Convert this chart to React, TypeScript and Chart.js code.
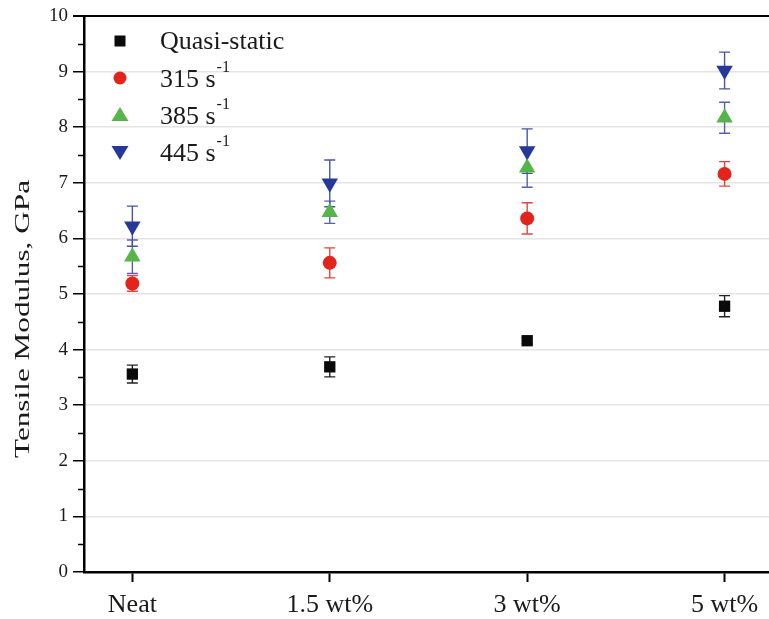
import React, { useEffect, useRef } from "react";
import { Chart, registerables } from "chart.js";

Chart.register(...registerables);

const categories = ["Neat", "1.5 wt%", "3 wt%", "5 wt%"];
const seriesNames = ["Quasi-static", "315", "385", "445"];
const quasiStatic = [3.56, 3.69, 4.16, 4.78];
const quasiStaticErr = [0.16, 0.18, 0.05, 0.19];
const rate315 = [5.19, 5.56, 6.36, 7.16];
const rate315Err = [0.14, 0.27, 0.28, 0.22];
const rate385 = [5.67, 6.47, 7.27, 8.17];
const rate385Err = [0.3, 0.2, 0.35, 0.28];
const rate445 = [6.22, 6.99, 7.57, 9.02];
const rate445Err = [0.36, 0.42, 0.4, 0.33];
const yTicks = [0, 1, 2, 3, 4, 5, 6, 7, 8, 9, 10];
const yTitle = "Tensile Modulus, GPa";

const FONT = "'Liberation Serif', 'Times New Roman', serif";

const seriesStyles = [
  { color: "#0a0a0a", err: "#222222", style: "rect", radius: 8, rotation: 0 },
  { color: "#e3241d", err: "#e3453e", style: "circle", radius: 7, rotation: 0 },
  { color: "#55b44a", err: "#5561b0", style: "triangle", radius: 9.5, rotation: 0 },
  { color: "#26399b", err: "#4654a8", style: "triangle", radius: 9.5, rotation: 180 },
];

const values = [quasiStatic, rate315, rate385, rate445];
const errors = [quasiStaticErr, rate315Err, rate385Err, rate445Err];

const framePlugin = {
  id: "frame",
  beforeDatasetsDraw(chart: any) {
    const { ctx, scales } = chart;
    const x = scales.x;
    const y = scales.y;
    ctx.save();
    values.forEach((vals, si) => {
      ctx.strokeStyle = seriesStyles[si].err;
      ctx.lineWidth = 1.4;
      vals.forEach((v, i) => {
        const e = errors[si][i];
        const px = x.getPixelForValue(i);
        const top = y.getPixelForValue(v + e);
        const bot = y.getPixelForValue(v - e);
        ctx.beginPath();
        ctx.moveTo(px, top);
        ctx.lineTo(px, bot);
        ctx.moveTo(px - 5.5, top);
        ctx.lineTo(px + 5.5, top);
        ctx.moveTo(px - 5.5, bot);
        ctx.lineTo(px + 5.5, bot);
        ctx.stroke();
      });
    });
    ctx.restore();
  },
  afterDraw(chart: any) {
    const { ctx, chartArea, scales } = chart;
    const y = scales.y;
    ctx.save();
    ctx.strokeStyle = "#000";
    ctx.lineWidth = 2;
    ctx.beginPath();
    ctx.moveTo(chartArea.left - 11, chartArea.top);
    ctx.lineTo(chartArea.right, chartArea.top);
    ctx.stroke();
    ctx.lineWidth = 1.5;
    for (let v = 0.5; v < 10; v += 1) {
      const py = Math.round(y.getPixelForValue(v)) + 0.5;
      ctx.beginPath();
      ctx.moveTo(chartArea.left - 6, py);
      ctx.lineTo(chartArea.left, py);
      ctx.stroke();
    }
    // y title (slightly stretched along its length like the reference)
    ctx.save();
    ctx.translate(22, 319);
    ctx.rotate(-Math.PI / 2);
    ctx.font = `22px ${FONT}`;
    ctx.fillStyle = "#1a1a1a";
    ctx.textAlign = "center";
    ctx.textBaseline = "middle";
    const tw = ctx.measureText(yTitle).width;
    const sx = 278 / tw;
    ctx.scale(sx, 1);
    ctx.fillText(yTitle, 0, 1);
    ctx.restore();
    // legend
    const lx = 120;
    const tx = 160;
    const rows = [41, 78, 115, 152];
    rows.forEach((ry, i) => {
      const s = seriesStyles[i];
      ctx.fillStyle = s.color;
      ctx.beginPath();
      if (i === 0) {
        ctx.rect(lx - 5.5, ry - 5.5, 11, 11);
      } else if (i === 1) {
        ctx.arc(lx, ry, 6.5, 0, Math.PI * 2);
      } else if (i === 2) {
        ctx.moveTo(lx, ry - 8);
        ctx.lineTo(lx + 8.5, ry + 6);
        ctx.lineTo(lx - 8.5, ry + 6);
        ctx.closePath();
      } else {
        ctx.moveTo(lx, ry + 8);
        ctx.lineTo(lx + 8.5, ry - 6);
        ctx.lineTo(lx - 8.5, ry - 6);
        ctx.closePath();
      }
      ctx.fill();
      ctx.fillStyle = "#1a1a1a";
      ctx.textBaseline = "middle";
      ctx.textAlign = "left";
      ctx.font = `26px ${FONT}`;
      if (i === 0) {
        ctx.fillText(seriesNames[0], tx, ry + 1);
      } else {
        const main = `${seriesNames[i]} s`;
        ctx.fillText(main, tx, ry + 2);
        const w = ctx.measureText(main).width;
        ctx.font = `16px ${FONT}`;
        ctx.fillText("-1", tx + w + 1, ry - 10);
      }
    });
    ctx.restore();
  },
};

export default function App() {
  const ref = useRef<HTMLCanvasElement | null>(null);
  useEffect(() => {
    document.body.style.margin = "0";
    if (!ref.current) return;
    const datasets = values.map((vals, si) => ({
      label: seriesNames[si],
      data: vals.map((v, i) => ({ x: i, y: v })),
      backgroundColor: seriesStyles[si].color,
      borderColor: seriesStyles[si].color,
      pointStyle: seriesStyles[si].style as any,
      pointRadius: seriesStyles[si].radius,
      pointRotation: seriesStyles[si].rotation,
      borderWidth: 0,
      showLine: false,
    }));
    const chart = new Chart(ref.current, {
      type: "scatter",
      data: { datasets },
      plugins: [framePlugin],
      options: {
        animation: false,
        responsive: false,
        layout: { autoPadding: false, padding: { top: 16, right: 0, left: 0, bottom: 0 } },
        plugins: { legend: { display: false }, tooltip: { enabled: false } },
        scales: {
          x: {
            type: "linear",
            min: -0.245,
            max: 3.225,
            afterBuildTicks(scale: any) {
              scale.ticks = categories.map((_, i) => ({ value: i }));
            },
            afterFit(scale: any) {
              scale.height = 47;
              scale.paddingLeft = 0;
              scale.paddingRight = 0;
            },
            ticks: {
              callback: (v: any) => categories[v as number] ?? "",
              font: { family: FONT, size: 26 },
              color: "#1a1a1a",
              padding: 8,
              maxRotation: 0,
              autoSkip: false,
            },
            grid: {
              drawOnChartArea: false,
              drawTicks: true,
              tickLength: 10,
              tickColor: "#000",
              tickWidth: 2,
            },
            border: { display: true, color: "#000", width: 2.5 },
          },
          y: {
            min: 0,
            max: 10,
            afterBuildTicks(scale: any) {
              scale.ticks = yTicks.map((v) => ({ value: v }));
            },
            afterFit(scale: any) {
              scale.width = 84;
              scale.paddingTop = 0;
              scale.paddingBottom = 0;
            },
            ticks: {
              font: { family: FONT, size: 19 },
              color: "#1a1a1a",
              padding: 5,
            },
            grid: {
              color: (c: any) => (c.tick && (c.tick.value === 0 || c.tick.value === 10) ? "rgba(0,0,0,0)" : "#e4e4e4"),
              lineWidth: 1.5,
              drawTicks: true,
              tickLength: 11,
              tickColor: "#000",
              tickWidth: 1.5,
            },
            border: { display: true, color: "#000", width: 2.5 },
            title: { display: false },
          },
        },
      },
    });
    return () => chart.destroy();
  }, []);
  return (
    <div style={{ position: "absolute", left: 0, top: 0, width: 769, height: 619 }}>
      <canvas ref={ref} width={769} height={619} style={{ display: "block", width: 769, height: 619 }} />
    </div>
  );
}
